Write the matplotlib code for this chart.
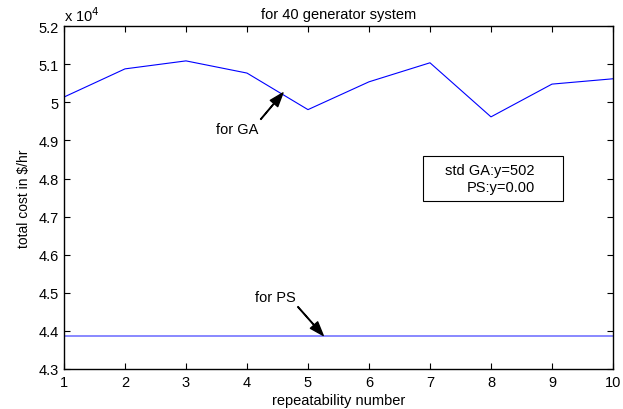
import matplotlib
matplotlib.use('Agg')
import matplotlib.pyplot as plt
from matplotlib.patches import Rectangle
from matplotlib.ticker import FuncFormatter

plt.rcParams['font.family'] = ['Liberation Sans', 'DejaVu Sans']

# repeatability runs and total cost ($/hr)
runs = [1, 2, 3, 4, 5, 6, 7, 8, 9, 10]
cost_ga = [50140, 50880, 51090, 50770, 49810, 50540, 51040, 49620, 50480, 50620]
cost_ps = [43875] * 10
std_text = 'std GA:y=502\nPS:y=0.00'

fig = plt.figure(figsize=(6.23, 4.10), dpi=100)
ax = fig.add_axes([0.1027, 0.0976, 0.8812, 0.836])

ax.plot(runs, cost_ga, color='#0000ff', lw=0.8)
ax.plot(runs, cost_ps, color='#7f7fff', lw=1.3)

ax.set_xlim(1, 10)
ax.set_ylim(43000, 52000)
ax.set_xticks(runs)
ax.set_yticks([43000 + 1000 * i for i in range(10)])
ax.yaxis.set_major_formatter(FuncFormatter(lambda v, p: '%g' % round(v / 1e4, 2)))
ax.tick_params(direction='in', length=4, width=0.8, top=True, right=True,
               labelsize=10.5, pad=4)
for s in ax.spines.values():
    s.set_linewidth(1.0)

ax.set_title('for 40 generator system', fontsize=10.5, pad=6)
ax.set_xlabel('repeatability number', fontsize=10.5, labelpad=3)
ax.set_ylabel('total cost in $/hr', fontsize=10, labelpad=5)
ax.text(0.0, 1.006, r'x 10$^4$', transform=ax.transAxes, fontsize=10.5,
        ha='left', va='bottom')

arrow = dict(facecolor='black', edgecolor='black', width=0.4, headwidth=7,
             headlength=10, shrink=0)
ax.annotate('for GA', xy=(4.59, 50250), xytext=(3.84, 49300), arrowprops=arrow,
            fontsize=10.5, ha='center', va='center')
ax.annotate('for PS', xy=(5.25, 43880), xytext=(4.46, 44890), arrowprops=arrow,
            fontsize=10.5, ha='center', va='center')

ax.add_patch(Rectangle((6.885, 47410), 9.18 - 6.885, 48590 - 47410,
                       fill=False, edgecolor='black', lw=0.8, zorder=5))
ax.text(8.72, 48000, std_text, fontsize=10.5, ha='right', va='center',
        multialignment='right', linespacing=1.3, zorder=6)

fig.savefig('out.png', dpi=100)
